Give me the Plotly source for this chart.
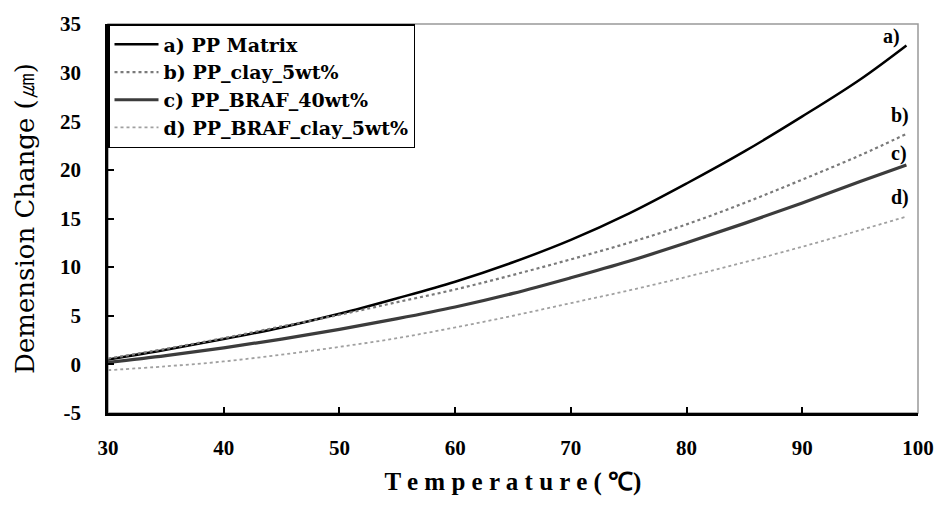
import plotly.graph_objects as go

temperature = [30, 35, 40, 45, 50, 55, 60, 65, 70, 75, 80, 85, 90, 95, 99]
pp_matrix = [0.5, 1.5, 2.6, 3.8, 5.2, 6.8, 8.5, 10.5, 12.8, 15.5, 18.6, 21.9, 25.5, 29.3, 32.8]
pp_clay = [0.6, 1.6, 2.7, 3.9, 5.1, 6.4, 7.7, 9.2, 10.8, 12.5, 14.4, 16.6, 19.0, 21.5, 23.7]
pp_braf = [0.2, 0.9, 1.7, 2.6, 3.6, 4.7, 5.9, 7.3, 8.9, 10.6, 12.5, 14.5, 16.6, 18.8, 20.5]
pp_braf_clay = [-0.6, -0.2, 0.3, 1.0, 1.8, 2.7, 3.8, 5.0, 6.3, 7.6, 9.0, 10.5, 12.1, 13.8, 15.2]

names = ["a) PP Matrix", "b) PP_clay_5wt%", "c) PP_BRAF_40wt%", "d) PP_BRAF_clay_5wt%"]
tags = ["a)", "b)", "c)", "d)"]
series = [pp_matrix, pp_clay, pp_braf, pp_braf_clay]

y_tick_values = [-5, 0, 5, 10, 15, 20, 25, 30, 35]
y_tick_labels = ["-5", "0", "5", "10", "15", "20", "25", "30", "35"]
x_tick_values = [30, 40, 50, 60, 70, 80, 90, 100]
x_tick_labels = ["30", "40", "50", "60", "70", "80", "90", "100"]

colors = ["#000000", "#7a7a7a", "#3c3c3c", "#a0a0a0"]
widths = [2.5, 2.2, 3.2, 1.8]
dashes = ["solid", "dot", "solid", "dot"]

SERIF = "Liberation Serif, Times New Roman, serif"
WIDE = "DejaVu Serif, serif"

fig = go.Figure()
for n, s, c, w, d in zip(names, series, colors, widths, dashes):
    fig.add_trace(go.Scatter(x=temperature, y=s, mode="lines", name=n,
                             line=dict(color=c, width=w, dash=d, shape="spline")))

label_xshift = [-4, 5, 3, 5]
label_yshift = [-5, 5, -2, 6]
for t, s, xs, ys in zip(tags, series, label_xshift, label_yshift):
    fig.add_annotation(x=temperature[-1], y=s[-1], text="<b>" + t + "</b>", showarrow=False,
                       xanchor="right", yanchor="bottom", xshift=xs, yshift=ys,
                       font=dict(family=SERIF, size=20, color="black"))

fig.add_shape(type="rect", xref="x domain", yref="y domain", x0=0, x1=1, y0=0, y1=1,
              line=dict(color="#999999", width=1.5), layer="below")

fig.update_layout(
    width=946, height=508,
    margin=dict(l=108, r=22, t=16, b=95),
    paper_bgcolor="white", plot_bgcolor="white",
    showlegend=True,
    legend=dict(x=0, y=1, xanchor="left", yanchor="top",
                bordercolor="black", borderwidth=1.5, bgcolor="white",
                font=dict(family=WIDE, size=19, color="black", weight="bold"),
                tracegroupgap=0, itemwidth=44),
    xaxis=dict(range=[30, 100], tickmode="array", tickvals=x_tick_values, ticktext=x_tick_labels,
               showgrid=False, zeroline=False,
               showline=True, linecolor="black", linewidth=2.5,
               ticks="inside", ticklen=6, tickwidth=1.5, tickcolor="black",
               ticklabelstandoff=14, ticklabeloverflow="allow",
               tickfont=dict(family=SERIF, size=21, color="black", weight="bold"),
               title=dict(text="T e m p e r a t u r e ( ℃)", standoff=14,
                          font=dict(family=SERIF, size=25, color="black", weight="bold"))),
    yaxis=dict(range=[-5, 35], tickmode="array", tickvals=y_tick_values, ticktext=y_tick_labels,
               showgrid=False, zeroline=False,
               showline=True, linecolor="black", linewidth=2.5,
               ticks="inside", ticklen=6, tickwidth=1.5, tickcolor="black",
               ticklabelstandoff=20, ticklabeloverflow="allow",
               tickfont=dict(family=SERIF, size=21, color="black", weight="bold"),
               title=dict(text="Demension Change (㎛)", standoff=18,
                          font=dict(family=WIDE, size=26, color="black"))),
)

fig.write_html("out.html", config={"displayModeBar": False},
               post_script="document.body.style.margin='0';")
